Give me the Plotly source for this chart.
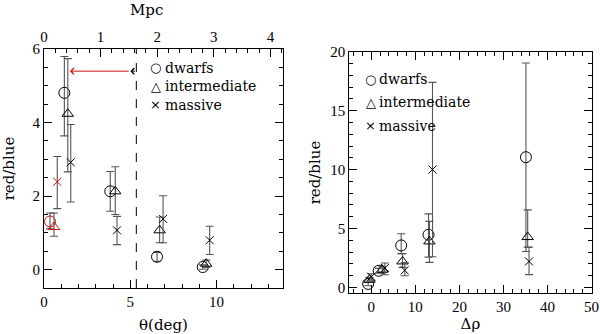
import plotly.graph_objects as go

# left panel: ratio vs angular distance (deg)
dwarf_theta = [1.18, 3.84, 6.55, 9.2]
dwarf_ratio = [4.81, 2.13, 0.35, 0.07]
dwarf_hi = [0.99, 0.54, 0.12, 0.06]
dwarf_lo = [1.17, 0.54, 0.12, 0.06]

inter_theta = [1.38, 4.13, 6.7, 9.4]
inter_ratio = [4.24, 2.13, 1.07, 0.16]
inter_hi = [1.5, 0.67, 0.36, 0.1]
inter_lo = [1.58, 0.63, 0.34, 0.1]

massive_theta = [1.55, 4.23, 6.9, 9.6]
massive_ratio = [2.92, 1.07, 1.38, 0.8]
massive_hi = [1.03, 0.38, 0.63, 0.38]
massive_lo = [1.08, 0.39, 0.65, 0.39]

# innermost bin (highlighted in red)
red_theta = [0.35, 0.58, 0.77]
red_ratio = [1.31, 1.16, 2.39]
red_hi = [0.23, 0.38, 0.69]
red_lo = [0.2, 0.25, 0.73]

# right panel: ratio vs overdensity
dwarf_drho = [-0.7, 1.7, 6.8, 13.0, 35.1]
dwarf_ratio_r = [0.29, 1.41, 3.56, 4.47, 11.05]
dwarf_hi_r = [0.15, 0.2, 0.99, 1.77, 8.0]
dwarf_lo_r = [0.15, 0.2, 0.7, 1.9, 8.0]

inter_drho = [-0.4, 2.5, 7.1, 13.2, 35.5]
inter_ratio_r = [0.65, 1.5, 2.2, 3.9, 4.27]
inter_hi_r = [0.2, 0.25, 0.66, 1.7, 2.31]
inter_lo_r = [0.2, 0.25, 0.5, 1.78, 0.85]

massive_drho = [0.0, 3.1, 7.6, 13.9, 35.8]
massive_ratio_r = [0.9, 1.64, 1.44, 10.0, 2.2]
massive_hi_r = [0.26, 0.43, 0.66, 7.4, 1.2]
massive_lo_r = [0.3, 0.57, 0.45, 7.4, 1.12]

deg_per_mpc = 3.28
theta_cut = 5.35
arrow_tip = 1.5
arrow_y = 5.4

SERIF = "DejaVu Serif"
TICKFONT = dict(family="Liberation Serif", size=15, color="black")
TITLEFONT = dict(family=SERIF, size=15, color="black")
ERR_COL = "#555555"
RED = "#d01010"

fig = go.Figure()


def add_series(x, y, hi, lo, symbol, size, color, xa, ya):
    fig.add_trace(go.Scatter(
        x=x, y=y, mode="markers", xaxis=xa, yaxis=ya, showlegend=False,
        marker=dict(symbol=symbol, size=size, color=color,
                    line=dict(color=color, width=1)),
        error_y=dict(type="data", array=hi, arrayminus=lo, color=ERR_COL,
                     thickness=1.1, width=4),
    ))


add_series(dwarf_theta, dwarf_ratio, dwarf_hi, dwarf_lo, "circle-open", 11, "black", "x", "y")
add_series(inter_theta, inter_ratio, inter_hi, inter_lo, "triangle-up-open", 10, "black", "x", "y")
add_series(massive_theta, massive_ratio, massive_hi, massive_lo, "x-thin-open", 8, "black", "x", "y")
for i, sym in enumerate(["circle-open", "triangle-up-open", "x-thin-open"]):
    add_series([red_theta[i]], [red_ratio[i]], [red_hi[i]], [red_lo[i]], sym,
               [11, 10, 8][i], RED, "x", "y")

add_series(dwarf_drho, dwarf_ratio_r, dwarf_hi_r, dwarf_lo_r, "circle-open", 11, "black", "x3", "y3")
add_series(inter_drho, inter_ratio_r, inter_hi_r, inter_lo_r, "triangle-up-open", 10, "black", "x3", "y3")
add_series(massive_drho, massive_ratio_r, massive_hi_r, massive_lo_r, "x-thin-open", 8, "black", "x3", "y3")

# empty traces so the overlaid frame axes (Mpc on top, mirrored sides) get drawn
for xa, ya in [("x2", "y"), ("x", "y2"), ("x4", "y3"), ("x3", "y4")]:
    fig.add_trace(go.Scatter(x=[0], y=[None], xaxis=xa, yaxis=ya, mode="markers",
                             showlegend=False, hoverinfo="skip"))

x_max = 13.85
axis_common = dict(showline=True, linecolor="black", linewidth=1, ticks="inside",
                   ticklen=8, tickcolor="black", showgrid=False, zeroline=False,
                   tickfont=TICKFONT, automargin=False, mirror=False)


def minor(step):
    return dict(dtick=step, ticklen=4, ticks="inside", tickcolor="black")


fig.update_layout(
    width=600, height=334, margin=dict(l=0, r=0, t=0, b=0),
    paper_bgcolor="white", plot_bgcolor="white", showlegend=False,
    xaxis=dict(axis_common, domain=[0.0733, 0.4717], range=[0, x_max], anchor="y",
               dtick=5, tick0=0, minor=minor(1),
               title=dict(text="θ(deg)", font=TITLEFONT, standoff=12)),
    xaxis2=dict(axis_common, overlaying="x", side="top", anchor="y",
                range=[0, x_max / deg_per_mpc], dtick=1, tick0=0, minor=minor(0.2)),
    yaxis=dict(axis_common, domain=[0.1377, 0.853], range=[-0.5, 6], anchor="x",
               dtick=2, tick0=0, minor=minor(0.5),
               title=dict(text="red/blue", font=TITLEFONT, standoff=14)),
    yaxis2=dict(axis_common, overlaying="y", side="right", anchor="x",
                range=[-0.5, 6], dtick=2, tick0=0, minor=minor(0.5),
                showticklabels=False),
    xaxis3=dict(axis_common, domain=[0.582, 0.986], range=[-5, 50], anchor="y3",
                dtick=10, tick0=0, minor=minor(2),
                title=dict(text="Δρ", font=TITLEFONT, standoff=4)),
    yaxis3=dict(axis_common, domain=[0.122, 0.845], range=[-0.5, 20], anchor="x3",
                dtick=5, tick0=0, minor=minor(1),
                title=dict(text="red/blue", font=TITLEFONT, standoff=5)),
    xaxis4=dict(axis_common, overlaying="x3", side="top", anchor="y3",
                range=[-5, 50], dtick=10, tick0=0, minor=minor(2),
                showticklabels=False),
    yaxis4=dict(axis_common, overlaying="y3", side="right", anchor="x3",
                range=[-0.5, 20], dtick=5, tick0=0, minor=minor(1),
                showticklabels=False),
)

# top axis title, placed where the original has it (left of the panel centre)
fig.add_annotation(x=146 / 600, y=1 - 10 / 334, xref="paper", yref="paper", text="Mpc",
                   showarrow=False, xanchor="center", yanchor="middle", font=TITLEFONT)

# dashed cut line
fig.add_shape(type="line", xref="x", yref="y domain", x0=theta_cut, x1=theta_cut,
              y0=0, y1=1, line=dict(color="black", width=1, dash="dash"))

# arrow: red line with open head, black chevron at tail
fig.add_annotation(x=arrow_tip, y=arrow_y, ax=theta_cut - 0.35, ay=arrow_y, xref="x", yref="y",
                   axref="x", ayref="y", text="", showarrow=True, arrowhead=4,
                   arrowsize=1.2, arrowwidth=1, arrowcolor=RED)
fig.add_annotation(x=theta_cut - 0.35, y=arrow_y, ax=theta_cut, ay=arrow_y, xref="x", yref="y",
                   axref="x", ayref="y", text="", showarrow=True, arrowhead=4,
                   arrowsize=1.2, arrowwidth=1, arrowcolor="black")

# legends
legend_items = [("○", "dwarfs"), ("△", "intermediate"), ("×", "massive")]
for k, (sym, label) in enumerate(legend_items):
    for xsym, xtxt, ytop, step in [(155.7, 163, 67.7, 18.5), (370.7, 377, 79, 23.3)]:
        yp = 1 - (ytop + k * step) / 334
        fig.add_annotation(x=xsym / 600, y=yp, xref="paper", yref="paper", text=sym,
                           showarrow=False, xanchor="center", yanchor="middle",
                           font=dict(family="DejaVu Sans", size=13, color="black"))
        fig.add_annotation(x=xtxt / 600, y=yp, xref="paper", yref="paper", text=label,
                           showarrow=False, xanchor="left", yanchor="middle",
                           font=dict(family=SERIF, size=14, color="black"))

# drop the default page margin so the figure sits at the window origin
fig.write_html("out.html", config={"displayModeBar": False},
               post_script="document.body.style.margin='0';")
